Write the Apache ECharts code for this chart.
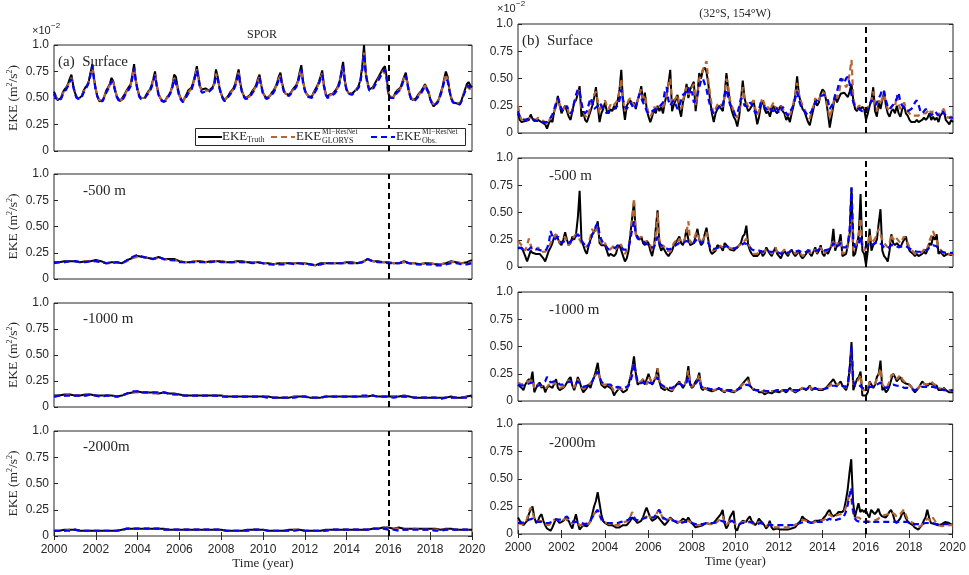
<!DOCTYPE html>
<html>
<head>
<meta charset="utf-8">
<script src="https://cdn.jsdelivr.net/npm/echarts@6/dist/echarts.min.js"></script>
<style>
  html, body { margin: 0; padding: 0; background: #fff; }
  #chart { width: 969px; height: 575px; }
</style>
</head>
<body>
<div id="chart"></div>
<script>
// Time axis and tick labels
const START_YEAR = 2000;
const END_YEAR = 2020;
const SPLIT_YEAR = 2016;          // train / test split marker
const X_TICK_STEP = 2;
const Y_TICKS = [0, 25, 50, 75, 100];
const Y_TICK_LABELS = ['0', '0.25', '0.50', '0.75', '1.0'];
const MONTH = 1 / 12;
const QUARTER = 1 / 4;

// EKE values in 1e-4 m^2/s^2 (axis shows them in units of 1e-2)

// ---- SPOR, surface (monthly) ----
const spor_surface_truth = [
  56,52,48,47,50,55,58,60,63,68,72,62,
  55,51,49,49,52,57,60,62,66,74,82,68,
  58,51,47,46,48,52,57,60,63,69,66,58,
  52,49,47,48,52,55,58,59,63,72,82,66,
  58,52,50,49,50,53,56,58,62,68,75,62,
  54,50,48,46,48,51,53,56,62,72,70,60,
  53,49,47,47,53,57,57,60,65,72,80,70,
  60,58,58,59,58,57,58,60,64,77,70,60,
  54,50,48,49,52,55,57,59,63,70,77,64,
  56,52,50,50,52,54,57,59,62,68,72,62,
  55,52,50,50,52,55,57,60,64,70,74,64,
  57,54,53,53,55,58,60,62,66,74,81,66,
  58,54,52,51,51,55,58,61,65,70,76,62,
  54,51,53,54,54,56,58,61,66,75,84,66,
  58,55,54,54,55,57,59,62,68,80,100,74,
  65,58,57,60,63,66,69,72,75,78,80,70,
  54,51,50,51,55,57,58,60,65,70,74,64,
  55,50,48,48,50,53,55,57,60,63,62,56,
  49,45,42,43,46,49,55,60,68,75,70,58,
  50,46,45,45,45,44,48,53,58,63,65,62,
  60
];
const spor_surface_glorys = [
  53,51,49,48,50,54,57,59,62,66,69,62,
  55,51,49,49,52,56,59,61,65,72,79,68,
  58,52,48,47,48,52,56,59,62,67,65,58,
  52,49,48,48,51,54,57,59,62,70,79,66,
  58,52,50,49,50,53,55,57,61,67,72,62,
  54,50,48,47,48,50,53,56,61,69,68,59,
  52,49,47,47,52,55,56,59,64,71,77,68,
  60,57,56,57,57,57,58,60,63,73,69,60,
  54,50,48,49,52,54,56,58,62,68,74,63,
  56,52,50,50,51,53,56,58,61,66,70,62,
  55,52,50,50,52,54,56,59,63,68,71,63,
  57,54,53,53,54,57,59,61,65,72,77,65,
  58,54,52,51,51,54,57,60,64,69,73,62,
  54,51,52,53,53,55,57,60,65,73,80,66,
  58,55,54,54,55,57,59,61,67,78,93,73,
  64,58,57,59,62,65,67,70,73,76,77,69,
  54,51,50,51,54,56,57,59,64,69,71,63,
  55,50,49,48,50,52,54,56,59,62,61,56,
  50,46,44,44,46,49,54,59,66,72,68,58,
  51,47,46,46,46,45,48,53,57,61,62,58,
  56
];
const spor_surface_obs = [
  54,50,48,47,49,53,56,58,61,65,68,61,
  54,50,49,49,51,55,58,61,65,73,80,67,
  57,51,47,46,47,51,55,58,61,66,64,57,
  51,48,47,47,50,53,56,58,61,69,78,65,
  57,51,49,48,49,52,54,56,60,66,71,61,
  53,49,47,46,47,49,52,55,60,68,67,58,
  51,48,46,46,51,54,55,58,63,70,76,67,
  58,55,55,56,56,56,57,59,62,71,68,59,
  53,49,47,48,51,53,55,57,61,67,73,62,
  55,51,49,49,50,52,55,57,60,65,69,61,
  54,51,49,49,51,53,55,58,62,67,70,62,
  56,53,52,52,53,56,58,60,64,71,77,64,
  57,53,51,50,50,53,56,59,63,68,72,61,
  53,50,51,52,52,54,56,59,64,72,80,65,
  57,54,53,53,54,56,58,60,66,77,92,72,
  63,57,56,58,61,64,66,69,72,75,77,68,
  53,50,49,50,53,55,56,58,63,68,71,62,
  54,49,48,47,49,51,53,55,58,61,60,55,
  49,45,43,43,45,48,53,58,65,68,66,57,
  50,46,45,44,44,44,47,52,56,60,62,59,
  57
];

// ---- SPOR, -500 m (quarterly) ----
const spor_500_truth = [
  16,16,17,17, 17,16,17,17, 18,17,15,16, 16,15,18,20, 22,21,20,19,
  21,19,19,19, 17,16,16,17, 17,16,17,17, 17,16,16,17, 17,16,16,16,
  15,15,14,15, 15,15,15,15, 15,14,13,15, 15,15,15,15, 16,16,15,16,
  19,17,17,16, 16,15,15,17, 15,15,14,15, 15,14,14,15, 17,16,15,16,
  18
];
const spor_500_glorys = [
  15,16,16,17, 17,16,17,17, 17,16,15,16, 16,15,17,20, 21,21,20,19,
  20,19,18,18, 17,16,16,17, 17,16,17,17, 17,16,16,16, 16,16,16,16,
  15,15,14,15, 15,15,15,15, 15,14,13,14, 15,15,15,15, 15,15,15,16,
  18,17,16,16, 16,15,15,16, 15,15,14,15, 15,14,14,15, 16,16,15,15,
  16
];
const spor_500_obs = [
  15,16,16,17, 17,16,16,17, 17,16,15,15, 16,15,18,21, 23,21,20,19,
  21,19,18,18, 16,16,16,16, 16,16,16,17, 16,16,16,16, 16,16,15,16,
  15,14,14,14, 14,15,14,15, 14,14,13,14, 15,15,15,15, 15,15,15,16,
  19,17,16,16, 15,15,15,16, 15,14,14,14, 14,13,13,14, 15,15,14,14,
  15
];

// ---- SPOR, -1000 m (quarterly) ----
const spor_1000_truth = [
  11,11,12,12, 11,11,12,12, 11,11,11,11, 10,11,13,14, 15,14,14,14,
  13,14,13,13, 12,11,11,11, 11,11,11,11, 11,10,10,10, 10,10,10,10,
  10,10,9,9, 9,9,10,10, 10,9,9,9, 10,10,10,10, 10,10,10,10,
  10,11,10,10, 10,10,10,11, 10,9,9,9, 9,9,9,9, 10,9,9,10,
  11
];
const spor_1000_glorys = [
  10,11,11,12, 11,11,11,12, 11,10,11,11, 10,11,13,14, 14,14,14,13,
  13,14,13,12, 12,11,11,11, 11,11,11,11, 11,10,10,10, 10,10,10,10,
  10,9,9,9, 9,9,10,10, 10,9,9,9, 10,10,10,10, 10,10,10,10,
  10,11,10,10, 10,10,10,10, 10,9,9,9, 9,9,8,9, 9,9,9,10,
  10
];
const spor_1000_obs = [
  10,11,11,11, 11,11,11,12, 11,10,11,11, 10,11,13,15, 15,14,14,14,
  14,14,13,12, 12,11,11,11, 11,11,11,11, 10,10,10,10, 10,10,10,10,
  10,9,9,9, 9,9,9,10, 10,9,9,9, 10,10,10,10, 10,10,10,11,
  11,11,10,10, 10,9,10,10, 10,9,9,9, 9,9,8,9, 9,9,9,9,
  10
];

// ---- SPOR, -2000 m (quarterly) ----
const spor_2000_truth = [
  5,5,6,6, 6,5,5,5, 5,5,5,5, 5,6,7,7, 7,7,7,7,
  7,7,6,6, 6,6,6,6, 6,6,6,6, 6,5,5,5, 5,6,6,6,
  6,5,5,5, 5,6,6,6, 5,5,5,5, 6,6,6,6, 6,6,6,6,
  6,7,7,8, 8,7,8,7, 7,7,7,7, 7,7,6,7, 7,6,6,6,
  6
];
const spor_2000_glorys = [
  5,5,5,6, 6,5,5,5, 5,5,5,5, 5,6,7,7, 7,7,7,7,
  7,6,6,6, 6,6,6,6, 6,6,6,6, 6,5,5,5, 5,5,6,6,
  6,5,5,5, 5,5,6,6, 5,5,5,5, 5,6,6,6, 6,6,6,6,
  6,7,7,7, 7,7,7,6, 6,7,6,6, 6,6,6,6, 6,6,6,6,
  6
];
const spor_2000_obs = [
  5,5,5,5, 6,5,5,5, 5,5,5,5, 5,6,7,7, 7,7,7,7,
  7,6,6,6, 6,6,6,6, 6,6,6,6, 6,5,5,5, 5,5,6,6,
  6,5,5,5, 5,5,5,6, 5,5,5,5, 5,6,6,6, 6,6,6,6,
  6,7,7,7, 6,6,5,6, 6,6,6,6, 6,5,5,6, 6,6,6,6,
  5
];

// ---- (32°S, 154°W), surface (monthly) ----
const pac_surface_truth = [
  18,12,10,9,11,10,12,17,13,11,10,12,
  11,10,9,8,4,9,12,10,20,25,34,25,
  18,22,25,25,15,12,20,28,30,36,43,15,
  20,12,10,15,20,25,32,42,25,10,18,22,
  28,20,18,22,20,25,22,30,40,58,25,12,
  25,28,30,25,28,22,30,35,43,28,37,22,
  15,10,15,22,18,25,20,24,18,28,35,45,
  58,20,26,30,35,22,15,28,35,45,32,40,
  40,47,20,35,55,50,58,60,56,45,30,18,
  10,18,22,25,25,20,35,55,40,28,20,15,
  12,6,15,30,48,32,25,20,22,25,30,18,
  8,15,25,30,22,18,20,15,22,25,20,18,
  22,25,20,18,12,15,10,18,25,35,52,35,
  28,22,20,15,10,7,15,22,30,25,28,36,
  40,38,30,18,5,15,25,35,28,32,36,35,
  37,35,33,38,45,30,22,20,24,22,24,22,
  12,18,25,30,42,20,15,28,22,30,38,25,
  18,15,20,22,18,25,18,15,22,25,18,16,
  12,10,9,10,12,10,10,12,14,12,14,18,
  12,15,12,14,10,16,18,20,12,10,8,12,
  10
];
const pac_surface_glorys = [
  25,16,12,13,14,12,14,15,13,12,12,14,
  14,12,13,10,8,11,14,14,20,24,32,26,
  20,22,24,26,18,16,22,28,32,38,40,22,
  20,16,14,18,24,30,35,38,30,18,25,26,
  30,25,22,26,24,26,25,30,38,50,30,20,
  26,30,32,28,26,24,30,36,40,32,35,25,
  18,15,18,24,22,26,24,26,22,30,36,45,
  50,26,30,32,35,28,22,30,36,42,35,38,
  42,45,25,35,50,52,58,62,66,48,35,24,
  18,22,26,28,26,24,35,50,42,30,25,20,
  16,14,20,30,42,32,28,24,26,28,30,22,
  16,20,28,32,26,22,24,20,25,28,24,22,
  24,26,22,20,16,18,15,22,28,36,46,36,
  30,25,22,18,15,13,20,25,32,28,30,35,
  38,36,32,22,14,20,28,34,32,36,45,50,
  46,42,45,55,67,32,25,22,25,24,25,24,
  22,22,26,30,38,26,20,30,26,32,36,28,
  22,20,24,26,24,35,26,22,25,28,24,20,
  18,16,15,16,17,16,16,18,19,18,20,22,
  18,20,18,18,16,20,20,22,16,14,14,15,
  14
];
const pac_surface_obs = [
  20,15,13,12,12,12,13,14,13,12,11,11,
  11,10,10,9,10,12,14,17,22,28,32,28,
  22,20,22,25,20,18,20,28,35,40,38,28,
  20,18,20,26,32,28,22,22,25,28,25,22,
  20,18,20,22,22,22,22,25,30,40,30,24,
  22,25,28,25,22,25,30,36,35,28,25,20,
  18,18,20,20,22,22,24,25,28,38,42,30,
  25,28,30,26,22,25,30,35,35,38,42,35,
  38,28,30,35,42,48,50,45,40,32,25,20,
  18,20,22,24,22,26,35,40,32,26,25,20,
  16,18,24,32,30,25,24,24,28,26,22,18,
  18,22,28,26,24,22,20,22,22,20,24,22,
  18,20,24,22,18,16,20,22,26,32,38,30,
  25,22,20,18,16,15,20,24,28,30,32,34,
  34,35,32,30,22,22,28,35,38,45,50,48,
  46,50,52,45,35,28,24,24,22,22,20,22,
  20,22,26,30,28,25,28,32,35,40,38,30,
  24,22,24,24,28,32,37,28,25,25,22,20,
  20,22,24,28,30,26,20,18,20,22,20,18,
  16,18,20,18,16,18,20,18,16,15,14,14,
  14
];

// ---- (32°S, 154°W), -500 m (monthly) ----
const pac_500_truth = [
  17,18,18,14,10,5,10,15,13,12,12,12,
  12,10,8,5,10,15,18,22,28,30,30,22,
  20,25,32,25,20,22,28,25,30,45,70,25,
  20,15,12,20,25,30,30,35,42,22,20,20,
  20,15,10,12,12,10,12,18,20,15,10,5,
  8,15,30,45,60,30,28,25,28,22,20,24,
  22,15,10,18,35,52,20,15,18,15,12,10,
  10,15,20,22,25,28,22,20,26,35,25,20,
  20,22,28,35,25,20,22,30,36,25,15,12,
  12,15,20,20,18,15,22,20,18,16,15,15,
  15,18,20,22,28,30,38,20,15,12,10,10,
  10,12,15,10,12,18,15,12,10,14,18,12,
  10,8,12,15,12,10,14,16,12,10,12,15,
  10,8,10,12,16,12,10,14,18,12,15,20,
  12,10,15,12,16,20,35,15,20,22,30,10,
  10,12,20,30,73,10,12,20,30,67,15,12,
  2,15,35,15,20,22,25,40,53,15,10,8,
  5,15,30,22,20,22,20,18,22,25,28,20,
  15,14,12,10,12,10,10,12,14,12,16,22,
  20,28,25,30,12,14,12,10,10,12,12,11,
  12
];
const pac_500_glorys = [
  24,22,20,18,15,20,26,20,15,14,16,18,
  16,14,15,14,15,18,22,25,28,30,26,22,
  22,25,28,22,20,24,26,28,30,28,25,22,
  22,20,18,22,28,35,30,30,38,25,22,20,
  22,18,15,15,18,20,16,20,22,20,15,12,
  15,18,30,45,63,30,25,26,28,25,22,24,
  22,20,15,20,30,50,25,18,20,18,15,14,
  14,18,22,24,22,26,25,22,25,32,42,22,
  22,25,30,32,26,22,25,28,32,25,18,15,
  14,16,18,20,20,18,20,20,18,18,17,16,
  16,18,20,20,22,24,26,22,18,15,12,12,
  12,14,15,13,14,16,16,14,12,15,18,14,
  12,11,14,16,14,12,14,16,14,12,13,15,
  12,10,11,13,15,14,12,14,16,13,15,18,
  14,12,15,14,16,20,25,18,22,20,25,12,
  12,14,22,30,45,15,15,22,30,45,18,15,
  15,20,30,22,22,26,30,35,30,25,22,20,
  18,22,30,25,28,26,24,22,25,28,26,22,
  18,16,14,12,13,12,12,14,16,14,18,24,
  28,33,28,25,18,16,14,12,12,12,12,12,
  12
];
const pac_500_obs = [
  18,18,17,16,15,15,16,18,18,17,16,16,
  16,15,15,15,17,22,33,28,25,26,28,25,
  22,22,24,24,22,22,25,25,28,30,28,24,
  22,20,18,20,24,30,32,38,40,30,25,22,
  20,18,16,16,17,18,18,20,20,18,16,15,
  16,18,25,35,42,30,26,25,25,24,22,22,
  20,18,17,18,22,28,22,20,20,18,17,16,
  16,17,18,20,21,22,22,22,23,24,24,22,
  22,22,24,26,24,22,22,24,25,22,18,16,
  16,17,18,18,18,18,19,19,18,18,17,17,
  17,18,19,20,21,22,22,20,18,16,15,15,
  15,15,15,14,14,15,15,14,13,14,15,14,
  13,12,13,14,14,13,14,15,15,14,14,15,
  14,13,13,14,15,15,14,15,16,15,16,17,
  16,15,16,16,17,18,22,18,19,20,22,18,
  17,18,22,35,73,25,18,20,22,28,18,17,
  18,19,22,20,20,22,22,23,22,20,18,17,
  17,18,20,20,20,19,18,18,19,20,19,18,
  17,16,15,14,14,14,14,15,15,15,16,18,
  19,20,20,19,16,15,14,13,13,13,13,13,
  13
];

// ---- (32°S, 154°W), -1000 m (monthly) ----
const pac_1000_truth = [
  15,14,12,10,15,18,20,18,27,8,12,15,
  17,12,14,8,12,14,15,12,16,20,12,10,
  10,12,14,15,20,22,14,10,15,22,18,12,
  8,10,12,15,12,18,22,28,35,22,15,14,
  12,14,15,12,10,5,8,10,12,10,8,9,
  10,15,22,30,41,25,15,14,18,20,15,14,
  25,20,15,18,22,30,18,12,12,10,12,10,
  10,9,12,14,15,18,15,12,15,20,32,15,
  12,14,18,20,26,12,10,12,11,10,10,9,
  10,10,11,12,10,9,8,10,10,9,8,8,
  9,10,12,14,16,18,18,22,14,12,10,9,
  10,8,9,8,6,7,8,8,7,8,9,10,
  8,9,10,9,8,10,12,10,9,8,9,10,
  10,12,11,10,12,14,10,9,12,13,10,11,
  10,9,12,14,15,18,20,17,14,16,18,14,
  12,10,15,30,54,10,15,20,22,27,5,6,
  5,8,18,15,12,15,22,25,37,10,12,8,
  10,14,20,25,22,18,20,22,18,17,16,15,
  15,13,10,8,10,12,15,18,16,15,14,16,
  17,15,16,14,10,9,10,12,10,9,8,8,
  8
];
const pac_1000_glorys = [
  17,16,15,14,18,17,18,17,20,12,13,15,
  16,14,14,11,13,15,16,14,17,18,14,12,
  12,13,15,16,19,20,15,12,16,20,17,13,
  11,12,13,15,14,18,22,24,28,22,17,15,
  14,15,16,14,12,9,10,11,12,11,10,10,
  11,14,20,27,35,22,16,15,18,20,17,15,
  22,20,17,18,22,30,18,14,13,12,12,11,
  11,10,12,14,15,17,15,13,15,19,28,15,
  13,14,17,19,24,14,12,12,11,11,10,10,
  10,10,11,11,10,10,9,10,10,10,9,9,
  9,10,12,13,15,17,17,19,14,12,11,10,
  10,9,9,9,8,8,9,9,8,9,10,10,
  9,9,10,10,9,10,11,10,10,9,10,10,
  10,12,11,11,12,13,11,10,12,12,11,11,
  11,10,12,13,14,16,17,16,14,15,17,14,
  13,12,15,25,45,15,15,18,20,24,10,10,
  10,12,17,15,14,16,20,24,30,15,14,12,
  14,18,24,25,24,20,22,24,20,18,17,16,
  15,13,11,10,11,12,14,17,16,15,15,16,
  18,16,16,14,12,11,11,12,11,10,10,10,
  10
];
const pac_1000_obs = [
  15,15,14,14,15,15,16,16,17,15,14,14,
  15,15,16,18,22,20,17,16,18,19,17,15,
  14,15,16,17,18,18,16,15,16,18,17,15,
  13,13,14,15,16,18,22,25,27,22,18,16,
  15,15,16,15,14,12,12,13,13,12,12,12,
  12,14,18,24,35,25,18,16,17,17,16,15,
  17,17,16,16,18,22,17,15,14,13,13,12,
  12,12,13,14,15,16,15,14,15,17,22,15,
  14,14,16,18,20,14,12,12,12,11,11,11,
  11,11,11,11,11,10,10,10,10,10,10,10,
  10,10,11,12,13,14,15,16,14,12,11,10,
  10,10,10,10,9,9,9,9,9,9,10,10,
  10,10,10,10,10,10,10,10,10,10,10,10,
  10,11,11,11,11,12,11,11,11,11,11,11,
  11,11,12,12,13,14,15,14,13,13,14,14,
  13,13,16,30,50,18,14,15,15,16,12,11,
  11,11,13,13,13,14,15,16,17,14,13,12,
  12,13,14,15,15,14,14,14,13,12,12,12,
  12,11,10,10,10,11,12,13,13,13,13,13,
  13,13,13,12,11,11,10,10,10,10,10,10,
  10
];

// ---- (32°S, 154°W), -2000 m (monthly) ----
const pac_2000_truth = [
  15,12,10,8,7,12,18,22,25,15,10,12,
  16,18,12,8,5,4,3,6,10,14,12,10,
  10,12,14,15,12,8,5,12,18,10,4,6,
  8,8,7,9,12,18,25,30,38,28,18,12,
  10,9,8,8,8,7,6,5,6,7,8,8,
  8,10,12,15,14,12,10,10,12,15,20,24,
  25,15,12,13,14,16,15,12,10,8,10,12,
  15,14,12,11,10,10,12,14,13,12,15,12,
  10,8,6,6,7,8,8,9,10,10,9,10,
  10,12,14,16,18,22,10,5,8,15,18,21,
  5,3,8,10,12,12,11,14,16,12,10,8,
  10,14,12,10,8,5,7,12,6,4,4,5,
  5,4,3,4,5,4,3,5,6,6,8,10,
  12,16,14,13,12,12,10,11,12,13,12,12,
  13,15,17,20,22,18,16,15,18,20,19,20,
  22,30,40,55,68,30,15,22,28,20,22,20,
  22,18,15,22,20,18,20,23,18,16,15,15,
  17,20,22,18,12,10,10,14,18,20,15,12,
  10,10,8,6,5,4,4,8,12,15,22,15,
  10,10,9,8,8,7,9,10,11,10,10,11,
  8
];
const pac_2000_glorys = [
  10,10,9,9,10,14,20,24,20,14,11,11,
  12,13,11,9,8,8,9,11,13,14,13,12,
  12,13,14,14,12,10,9,10,12,10,8,8,
  8,8,8,9,11,15,18,20,20,17,13,11,
  10,10,9,9,8,8,8,8,8,9,10,11,
  11,12,15,20,16,13,12,12,13,14,15,16,
  18,15,14,15,17,20,22,18,14,13,13,13,
  14,13,12,11,11,10,11,12,12,11,12,11,
  10,9,8,8,8,8,9,9,10,10,9,9,
  9,10,11,12,14,16,11,8,9,12,14,15,
  9,8,9,10,11,11,11,12,12,10,9,8,
  9,11,10,9,8,7,7,9,7,6,6,6,
  6,6,6,6,6,6,6,7,8,8,9,10,
  11,13,13,12,12,11,10,10,11,12,12,12,
  12,13,14,16,18,17,15,15,17,18,18,19,
  20,24,30,35,32,20,15,14,15,14,13,12,
  12,12,11,12,12,12,13,14,15,16,17,18,
  18,19,20,20,18,16,15,18,20,22,18,14,
  12,11,10,8,7,6,6,8,10,12,14,13,
  12,15,14,10,8,7,7,8,8,8,8,8,
  8
];
const pac_2000_obs = [
  10,10,10,10,11,12,13,14,14,12,11,11,
  11,11,11,10,10,10,10,11,12,13,13,13,
  13,14,15,16,14,12,11,11,12,11,10,10,
  9,9,9,10,12,15,18,20,22,18,14,12,
  11,10,10,10,10,10,10,10,10,11,12,12,
  12,13,15,17,15,13,12,12,13,14,14,15,
  16,15,14,15,17,20,22,18,15,14,13,13,
  13,13,12,11,11,10,10,11,11,11,11,10,
  10,10,9,9,9,9,9,9,10,10,10,10,
  10,10,11,12,12,13,11,10,10,11,12,12,
  10,9,9,10,10,10,10,10,11,10,10,9,
  9,10,10,9,9,8,8,9,8,8,8,8,
  8,8,8,8,8,8,8,8,8,8,9,10,
  10,11,11,11,11,11,10,10,11,11,11,11,
  11,11,12,13,14,13,12,12,13,14,14,15,
  16,20,26,35,42,22,14,12,11,11,11,11,
  11,11,11,11,11,11,11,11,11,11,11,11,
  11,11,11,11,11,11,11,11,11,11,11,11,
  11,10,10,9,9,9,9,9,9,10,10,10,
  10,10,9,9,9,9,9,9,9,9,9,9,
  9
];

// ---- panel layout ----
const SERIF = '"Liberation Serif", "Times New Roman", serif';
const SANS = '"Liberation Sans", Arial, sans-serif';
const INK = '#262626';
const COLORS = { truth: '#000000', glorys: '#b5652f', obs: '#0000ff' };

const panels = [
  { rect: { left: 54, top: 45, width: 418, height: 106 }, label: '(a)\u2002Surface', lx: 58, ly: 62,
    data: [spor_surface_truth, spor_surface_glorys, spor_surface_obs], step: MONTH, yName: true, bottom: false },
  { rect: { left: 54, top: 174, width: 418, height: 105 }, label: '-500 m', lx: 83, ly: 191,
    data: [spor_500_truth, spor_500_glorys, spor_500_obs], step: QUARTER, yName: true, bottom: false },
  { rect: { left: 54, top: 303, width: 418, height: 104 }, label: '-1000 m', lx: 83, ly: 319,
    data: [spor_1000_truth, spor_1000_glorys, spor_1000_obs], step: QUARTER, yName: true, bottom: false },
  { rect: { left: 54, top: 431, width: 418, height: 105 }, label: '-2000m', lx: 83, ly: 447,
    data: [spor_2000_truth, spor_2000_glorys, spor_2000_obs], step: QUARTER, yName: true, bottom: true },
  { rect: { left: 518, top: 24, width: 435, height: 109 }, label: '(b)\u2002Surface', lx: 522, ly: 41,
    data: [pac_surface_truth, pac_surface_glorys, pac_surface_obs], step: MONTH, yName: false, bottom: false },
  { rect: { left: 518, top: 158, width: 435, height: 109 }, label: '-500 m', lx: 549, ly: 176,
    data: [pac_500_truth, pac_500_glorys, pac_500_obs], step: MONTH, yName: false, bottom: false },
  { rect: { left: 518, top: 292, width: 435, height: 109 }, label: '-1000 m', lx: 549, ly: 310,
    data: [pac_1000_truth, pac_1000_glorys, pac_1000_obs], step: MONTH, yName: false, bottom: false },
  { rect: { left: 518, top: 424, width: 435, height: 110 }, label: '-2000m', lx: 549, ly: 443,
    data: [pac_2000_truth, pac_2000_glorys, pac_2000_obs], step: MONTH, yName: false, bottom: true }
];

const toPairs = (values, step) => values.map((v, k) => [START_YEAR + k * step, v]);
const yLabel = v => Y_TICK_LABELS[Y_TICKS.indexOf(v)] ?? '';
const xLabel = v => String(Math.round(v));

const grid = [], xAxis = [], yAxis = [], series = [], graphic = [];

panels.forEach((p, i) => {
  grid.push(Object.assign({ show: true, borderColor: INK, borderWidth: 1, backgroundColor: 'transparent' }, p.rect));

  const xBase = {
    gridIndex: i, type: 'value', min: START_YEAR, max: END_YEAR, interval: X_TICK_STEP,
    axisLine: { show: false }, splitLine: { show: false },
    axisTick: { show: p.bottom, inside: true, length: 4, lineStyle: { color: INK } }
  };
  xAxis.push(Object.assign({}, xBase, {
    position: 'bottom',
    axisLabel: { show: p.bottom, color: INK, fontFamily: SANS, fontSize: 12, margin: 8, formatter: xLabel },
    name: p.bottom ? 'Time (year)' : '', nameLocation: 'middle', nameGap: 21,
    nameTextStyle: { fontFamily: SERIF, fontSize: 13, color: INK }
  }));
  xAxis.push(Object.assign({}, xBase, { position: 'top', axisLabel: { show: false } }));

  const yBase = {
    gridIndex: i, type: 'value', min: 0, max: 100, interval: 25,
    axisLine: { show: false }, splitLine: { show: false },
    axisTick: { show: true, inside: true, length: 4, lineStyle: { color: INK } }
  };
  yAxis.push(Object.assign({}, yBase, {
    position: 'left',
    axisLabel: { color: INK, fontFamily: SANS, fontSize: 12, margin: 5, formatter: yLabel },
    name: p.yName ? 'EKE (m{s|2}/s{s|2})' : '', nameLocation: 'middle', nameGap: 31, nameRotate: 90,
    nameTextStyle: {
      fontFamily: SERIF, fontSize: 13.5, color: INK, lineHeight: 16,
      rich: { s: { fontFamily: SERIF, fontSize: 8, lineHeight: 8, verticalAlign: 'top', color: INK } }
    }
  }));
  yAxis.push(Object.assign({}, yBase, { position: 'right', axisLabel: { show: false } }));

  const kinds = ['truth', 'glorys', 'obs'];
  p.data.forEach((vals, k) => {
    const kind = kinds[k];
    const s = {
      type: 'line', xAxisIndex: 2 * i, yAxisIndex: 2 * i, data: toPairs(vals, p.step),
      showSymbol: false, symbol: 'none', silent: true, animation: false,
      lineStyle: { color: COLORS[kind], width: kind === 'truth' ? 2 : 2.2, type: kind === 'truth' ? 'solid' : [6, 4] },
      z: 2 + k
    };
    if (kind === 'obs') {
      s.markLine = {
        silent: true, symbol: 'none', label: { show: false }, animation: false,
        lineStyle: { color: '#000', width: 2, type: [6, 4] },
        data: [{ xAxis: SPLIT_YEAR }]
      };
    }
    series.push(s);
  });

  graphic.push({
    type: 'text', x: p.lx, y: p.ly, z: 50,
    style: { text: p.label, font: '15px ' + SERIF, fill: INK, textVerticalAlign: 'middle', verticalAlign: 'middle' }
  });
});

// Titles and axis scale factors
const txt = (x, y, text, size, family, align) => ({
  type: 'text', x, y, z: 50,
  style: { text, font: size + 'px ' + family, fill: INK, textAlign: align || 'left', align: align || 'left',
           textVerticalAlign: 'middle', verticalAlign: 'middle' }
});
graphic.push(txt(262, 35, 'SPOR', 12, SERIF, 'center'));
graphic.push(txt(735, 14, '(32°S, 154°W)', 12, SERIF, 'center'));
graphic.push(txt(32, 31, '×10', 11, SANS));
graphic.push(txt(51, 26, '−2', 8, SANS));
graphic.push(txt(497, 9, '×10', 11, SANS));
graphic.push(txt(516, 4, '−2', 8, SANS));

// Legend box in panel (a)
const legendY = 137;
const legend = [
  { type: 'rect', shape: { x: 195.5, y: 128.5, width: 270, height: 17 }, style: { fill: '#fff', stroke: INK, lineWidth: 1 } },
  { type: 'line', shape: { x1: 198, y1: legendY, x2: 222, y2: legendY }, style: { stroke: COLORS.truth, lineWidth: 2 } },
  txt(222, legendY, 'EKE', 13, SERIF),
  txt(247, legendY + 3, 'Truth', 8, SERIF),
  { type: 'line', shape: { x1: 271, y1: legendY, x2: 295, y2: legendY }, style: { stroke: COLORS.glorys, lineWidth: 2, lineDash: [6, 4] } },
  txt(296, legendY, 'EKE', 13, SERIF),
  txt(322, legendY - 5, 'MI−ResNet', 7.5, SERIF),
  txt(322, legendY + 4, 'GLORYS', 8, SERIF),
  { type: 'line', shape: { x1: 371, y1: legendY, x2: 395, y2: legendY }, style: { stroke: COLORS.obs, lineWidth: 2, lineDash: [6, 4] } },
  txt(396, legendY, 'EKE', 13, SERIF),
  txt(422, legendY - 5, 'MI−ResNet', 7.5, SERIF),
  txt(422, legendY + 4, 'Obs.', 8, SERIF)
];
legend.forEach(el => { el.z = 100; graphic.push(el); });

const chart = echarts.init(document.getElementById('chart'), null, { renderer: 'canvas' });
chart.setOption({
  animation: false,
  backgroundColor: '#fff',
  grid, xAxis, yAxis, series, graphic
});
</script>
</body>
</html>
